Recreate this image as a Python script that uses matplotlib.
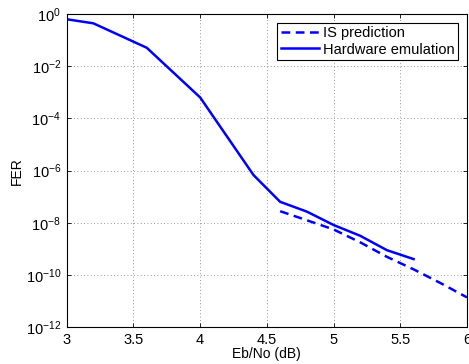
import matplotlib
matplotlib.use('Agg')
import matplotlib.pyplot as plt
import numpy as np
from matplotlib.ticker import LogLocator, NullLocator

plt.rcParams['font.family'] = ['Liberation Sans', 'DejaVu Sans']

# Hardware emulation curve
hw_snr = [3.0, 3.2, 3.6, 4.0, 4.4, 4.6, 4.8, 5.0, 5.2, 5.4, 5.6]
hw_fer = [6.3e-1, 4.4e-1, 5.1e-2, 6.4e-4, 6.8e-7, 6.4e-8, 2.7e-8, 8.3e-9, 3.2e-9, 9.0e-10, 4.1e-10]

# IS prediction curve
is_snr = [4.6, 4.8, 5.0, 5.2, 5.4, 5.6, 5.8, 6.0]
is_fer = [2.8e-8, 1.26e-8, 5.6e-9, 1.8e-9, 5.0e-10, 1.66e-10, 5.0e-11, 1.4e-11]

xticks = [3, 3.5, 4, 4.5, 5, 5.5, 6]
yticks = [1e-12, 1e-10, 1e-8, 1e-6, 1e-4, 1e-2, 1e0]

fig = plt.figure(figsize=(4.69, 3.64), dpi=100)
ax = fig.add_axes([0.1422, 0.1008, 0.8535, 0.8607])

ax.semilogy(is_snr, is_fer, color='#0000ff', lw=1.8, dashes=(3.5, 2.2), label='IS prediction')
ax.semilogy(hw_snr, hw_fer, color='#0000ff', lw=1.8, label='Hardware emulation')

ax.set_xlim(3, 6)
ax.set_ylim(1e-12, 1e0)
ax.set_xticks(xticks)
ax.set_xticklabels(['3', '3.5', '4', '4.5', '5', '5.5', '6'])
ax.set_yticks(yticks)
ax.yaxis.set_minor_locator(NullLocator())
ax.tick_params(direction='in', top=True, right=True, labelsize=10.5, length=3, width=0.6, pad=4)
ax.grid(True, which='major', linestyle=(0, (1, 3)), color='#777777', lw=0.6)
for s in ax.spines.values():
    s.set_linewidth(0.8)

ax.set_xlabel('Eb/No (dB)', fontsize=10, labelpad=0)
ax.set_ylabel('FER', fontsize=10, labelpad=1)

leg = ax.legend(loc='upper right', fontsize=10.5, fancybox=False, framealpha=1,
                edgecolor='black', handlelength=2.6, handletextpad=0.3,
                borderpad=0.25, labelspacing=0.15, borderaxespad=0.6)
leg.get_frame().set_linewidth(0.8)

fig.savefig('out.png', dpi=100)
